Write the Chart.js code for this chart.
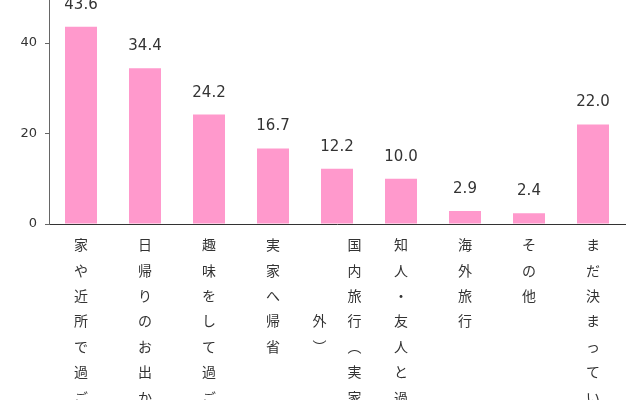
<!DOCTYPE html>
<html>
<head>
<meta charset="utf-8">
<script src="https://cdn.jsdelivr.net/npm/chart.js@4"></script>
<style>
  html, body { margin: 0; padding: 0; background: #fff; overflow: hidden; }
  #wrap { position: absolute; left: 0; top: -18px; width: 640px; height: 418px; }
</style>
</head>
<body>
<div id="wrap"><canvas id="grafico"></canvas></div>
<script>
// 縦書きラベル (1行 = 1文字)
const categorias = [
    ['家','や','近','所','で','過','ご','す'],
    ['日','帰','り','の','お','出','か','け'],
    ['趣','味','を','し','て','過','ご','す'],
    ['実','家','へ','帰','省'],
    ['\u2002　　国','\u2002　　内','\u2002　　旅','外\u2002　行','︶\u2002　︵','\u2002　　実','\u2002　　家','\u2002　　以'],
    ['知','人','・','友','人','と','過','ご','す'],
    ['海','外','旅','行'],
    ['そ','の','他'],
    ['ま','だ','決','ま','っ','て','い','な','い']
];
const valores = [43.6, 34.4, 24.2, 16.7, 12.2, 10.0, 2.9, 2.4, 22.0];
const ticksY = [0, 20, 40];

// 棒の上に数値を表示
const rotulos = {
    id: 'rotulos',
    afterDatasetsDraw(chart) {
        const ctx = chart.ctx;
        const meta = chart.getDatasetMeta(0);
        ctx.save();
        ctx.font = '15px "DejaVu Sans"';
        ctx.fillStyle = '#333';
        ctx.textAlign = 'center';
        ctx.textBaseline = 'alphabetic';
        meta.data.forEach((bar, i) => {
            ctx.fillText(valores[i].toFixed(1), bar.x, bar.y - 18);
        });
        ctx.restore();
    }
};

new Chart(document.getElementById('grafico'), {
    type: 'bar',
    data: {
        labels: categorias,
        datasets: [{
            data: valores,
            backgroundColor: '#ff99cc',
            borderWidth: 0,
            barPercentage: 0.5,
            categoryPercentage: 1.0
        }]
    },
    options: {
        responsive: true,
        maintainAspectRatio: false,
        animation: false,
        layout: { padding: { top: 6.5, right: 15, left: 0, bottom: 0 } },
        plugins: {
            legend: { display: false },
            tooltip: { enabled: false }
        },
        scales: {
            x: {
                grid: { display: false },
                border: { display: true, color: '#333', width: 1 },
                ticks: {
                    color: '#333',
                    font: { family: '"Noto Sans CJK JP"', size: 14, lineHeight: 1.82 },
                    padding: 0,
                    maxRotation: 0,
                    autoSkip: false
                },
                afterFit: (scale) => { scale.height = 176; }
            },
            y: {
                min: 0,
                max: 50,
                grid: { drawOnChartArea: false, drawTicks: true, tickLength: 4, color: '#666' },
                border: { display: true, color: '#666', width: 1 },
                ticks: {
                    color: '#333',
                    font: { family: '"DejaVu Sans"', size: 13 },
                    padding: 8
                },
                afterBuildTicks: (scale) => { scale.ticks = ticksY.map(v => ({ value: v })); },
                afterFit: (scale) => { scale.width = 49; }
            }
        }
    },
    plugins: [rotulos]
});
</script>
</body>
</html>
